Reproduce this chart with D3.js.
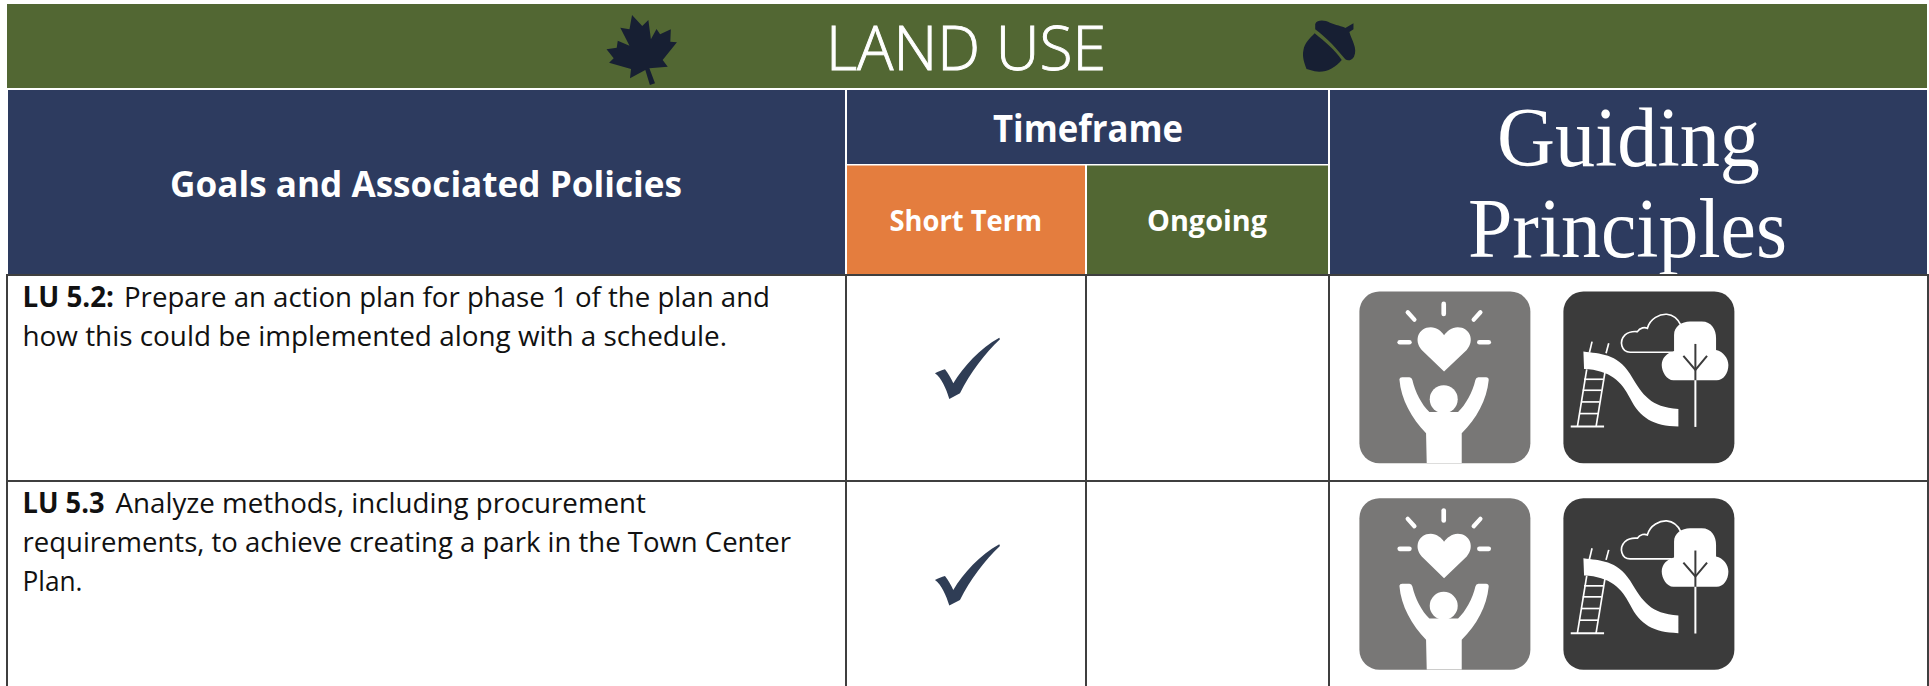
<!DOCTYPE html>
<html><head><meta charset="utf-8">
<script src="https://cdn.jsdelivr.net/npm/d3@7/dist/d3.min.js"></script>
<style>html,body{margin:0;padding:0;background:#fff}svg{display:block}</style>
</head><body><svg id="c" width="1929" height="686"></svg>
<script>
const title = "LAND USE";
const headGoals = "Goals and Associated Policies";
const headTime = "Timeframe";
const timeframes = ["Short Term", "Ongoing"];
const headGuide = ["Guiding", "Principles"];
const policies = ["LU 5.2", "LU 5.3"];
const policyBold = ["LU 5.2:", "LU 5.3"];
const policyLines = [
  ["Prepare an action plan for phase 1 of the plan and", "how this could be implemented along with a schedule."],
  ["Analyze methods, including procurement", "requirements, to achieve creating a park in the Town Center", "Plan."]
];
const policyTimeframe = ["Short Term", "Short Term"];
const principleIcons = ["wellbeing", "parks"];

const NAVY="#2d3b5f", GREEN="#526733", ORANGE="#e47d3e", RULE="#3f3f3f", INK="#171f33";
const svg = d3.select("#c");
const SANS = "'Open Sans','Noto Sans',sans-serif";

const xCol = d3.scaleBand().domain(timeframes).range([846,1326]);
const yRow = d3.scaleBand().domain(policies).range([275,275+2*206.6]);
const xIcon = d3.scaleOrdinal().domain(principleIcons).range([1359.4,1563.4]);

function rect(x0,y0,x1,y1,fill){svg.append("rect").attr("x",x0).attr("y",y0).attr("width",x1-x0).attr("height",y1-y0).attr("fill",fill);}
function fit(t,x0,x1,base,size,o={}){
  const s=svg.append("text").attr("x",x0).attr("y",base).text(t)
    .attr("font-family",o.family||SANS).attr("font-size",size).attr("font-weight",o.weight||400)
    .attr("fill",o.fill||"#fff").attr("textLength",x1-x0).attr("lengthAdjust","spacingAndGlyphs");
  if(o.stroke) s.attr("stroke",o.fill||"#fff").attr("stroke-width",o.stroke);
  return s;
}

// header fills
const mid=xCol("Ongoing");
rect(7,4,1927,88,GREEN);
rect(8,90,845,274,NAVY);
rect(847,90,1328,164,NAVY);
rect(847,165.5,mid-1,274,ORANGE);
rect(mid+1,165.5,1328,274,GREEN);
rect(1330,90,1927,274,NAVY);

// header text
fit(title,826,1106,69.5,61,{weight:300,stroke:0.9});
fit(headGoals,170,682,196.5,36,{weight:700});
fit(headTime,993,1183,141.5,37,{weight:700});
fit(timeframes[0],889.5,1042,230.5,29,{weight:700});
fit(timeframes[1],1147,1267,230.5,29,{weight:700});
fit(headGuide[0],1497,1760,166,85,{family:"'Liberation Serif',serif"});
fit(headGuide[1],1468,1787,257,85,{family:"'Liberation Serif',serif"});

// grid rules
function hline(y,x0,x1){svg.append("line").attr("x1",x0).attr("x2",x1).attr("y1",y).attr("y2",y).attr("stroke",RULE).attr("stroke-width",2);}
function vline(x,y0,y1){svg.append("line").attr("x1",x).attr("x2",x).attr("y1",y0).attr("y2",y1).attr("stroke",RULE).attr("stroke-width",2);}
[7,846,mid,1329,1928].forEach(x=>vline(x,274,686));
policies.forEach(p=>hline(Math.floor(yRow(p)),6,1929));

// policy text
const bEnds=[[22.5,114,124],[22.5,104.5,115.5]];
const lineEnds=[[770,727],[646,791,82.5]];
policies.forEach((p,i)=>{
  const y0=yRow(p)+(i?31.7:32.3);
  fit(policyBold[i],bEnds[i][0],bEnds[i][1],y0,28,{weight:700,fill:"#111"});
  policyLines[i].forEach((l,j)=>{
    const x0=j===0?bEnds[i][2]:22.5;
    fit(l,x0,lineEnds[i][j],y0+j*38.8,28,{fill:"#111"});
  });
});

// check marks
policies.forEach((p,i)=>{
  svg.append("path")
    .attr("d","M345 880C355 875 365 870 375 868C385 880 393 895 400 910C430 860 480 805 538 773L540 778C495 820 450 880 420 940L388 957C378 925 365 895 345 880Z")
    .attr("transform",`translate(${xCol(policyTimeframe[i])+xCol.bandwidth()/2+1.3},${yRow(p)+yRow.bandwidth()/2-10}) scale(0.3333) translate(-442,-865)`)
    .attr("fill","#2f3d55");
});

// leaf + acorn (drawn in zoomed-reference units)
svg.append("path").attr("transform","translate(580,0) scale(0.5102,0.3333)").attr("fill",INK)
 .attr("d","M137 255L147 250L136 205L172 200L162 180L190 127L177 125L178 88L157 103L150 87L139 118L134 60L122 78L102 45L97 88L79 83L97 137L74 122L72 143L52 148L66 175L57 188L100 207L98 235L128 210Z");
const acorn=svg.append("g").attr("transform","translate(580,0) scale(0.5102,0.3333)").attr("fill",INK);
acorn.append("path").attr("d","M1441 72C1445 58 1460 60 1470 68C1480 75 1495 78 1500 84L1516 70L1516 88L1508 96C1512 120 1525 145 1517 170C1512 182 1505 183 1500 178C1485 150 1465 115 1441 88Z");
acorn.append("path").attr("d","M1440 100C1460 125 1480 150 1493 180C1480 205 1460 220 1440 214L1424 207C1420 190 1415 170 1418 150C1420 130 1430 115 1440 100Z");

// icons
function wellbeing(g){
  g.append("rect").attr("x",178).attr("y",65).attr("width",513).attr("height",515).attr("rx",60).attr("fill","#787776");
  g.append("path").attr("fill","#fff").attr("d","M432 305L365 240C340 212 355 172 392 172C410 172 425 185 432 196C440 185 455 172 473 172C510 172 525 212 500 240Z");
  [[431,102,431,132,14],[323,127,343,149,13],[541,127,521,149,13],[299,217,328,217,14],[538,217,566,217,14]].forEach(d=>{
    g.append("line").attr("x1",d[0]).attr("y1",d[1]).attr("x2",d[2]).attr("y2",d[3]).attr("stroke","#fff").attr("stroke-width",d[4]).attr("stroke-linecap","round");
  });
  g.append("path").attr("fill","#fff").attr("d","M298 328Q299 322 306 322L328 322Q335 322 337 330C345 365 365 405 388 426L474 426C497 405 518 365 526 330Q528 322 535 322L558 322Q566 322 566 330C560 390 530 445 485 490L485 579L380 579L378 490C335 445 303 390 298 328Z");
  g.append("circle").attr("cx",431).attr("cy",388).attr("r",42).attr("fill","#fff");
}
function parks(g){
  const D="#3b3b3b";
  g.append("rect").attr("x",790).attr("y",65).attr("width",513).attr("height",515).attr("rx",60).attr("fill",D);
  g.append("path").attr("fill","#fff").attr("d","M850 245C900 252 950 250 990 312C1030 378 1050 410 1135 417L1135 470C1060 468 1020 445 990 385C965 335 930 300 852 297Z");
  const ls=(a,b,c,d,w,col)=>g.append("line").attr("x1",a).attr("y1",b).attr("x2",c).attr("y2",d).attr("stroke",col||"#fff").attr("stroke-width",w);
  ls(860,298,832,470,5); ls(915,305,888,470,5); ls(812,470,912,470,6);
  ls(876,215,868,248,5); ls(926,220,918,250,5);
  ls(852,328,910,328,5); ls(848,361,905,361,5); ls(843,396,899,396,5); ls(838,431,894,431,5);
  g.append("path").attr("fill","none").attr("stroke","#fff").attr("stroke-width",5)
   .attr("d","M1115 247L990 247C965 247 955 215 975 195C990 182 1005 185 1012 185C1020 172 1035 172 1042 175C1050 145 1080 132 1100 133C1120 135 1135 150 1142 165");
  g.append("path").attr("fill","#fff").attr("d","M1122 243L1122 195C1122 170 1145 155 1170 155L1205 155C1235 155 1248 180 1248 205L1248 240C1270 245 1285 265 1285 285C1285 310 1270 331 1250 331L1120 331C1100 331 1085 305 1085 285C1085 265 1100 248 1122 243Z");
  ls(1186,222,1186,331,6,D);
  g.append("path").attr("fill","none").attr("stroke",D).attr("stroke-width",6).attr("d","M1150 258L1186 300L1221 258");
  ls(1186,331,1186,471,6);
}
const painters={wellbeing,parks}, originX={wellbeing:178,parks:790};
policies.forEach(p=>{
  principleIcons.forEach(ic=>{
    const g=svg.append("g").attr("transform",`translate(${xIcon(ic)},${yRow(p)+16.6}) scale(0.3333) translate(${-originX[ic]},-65)`);
    painters[ic](g);
  });
});
</script></body></html>
